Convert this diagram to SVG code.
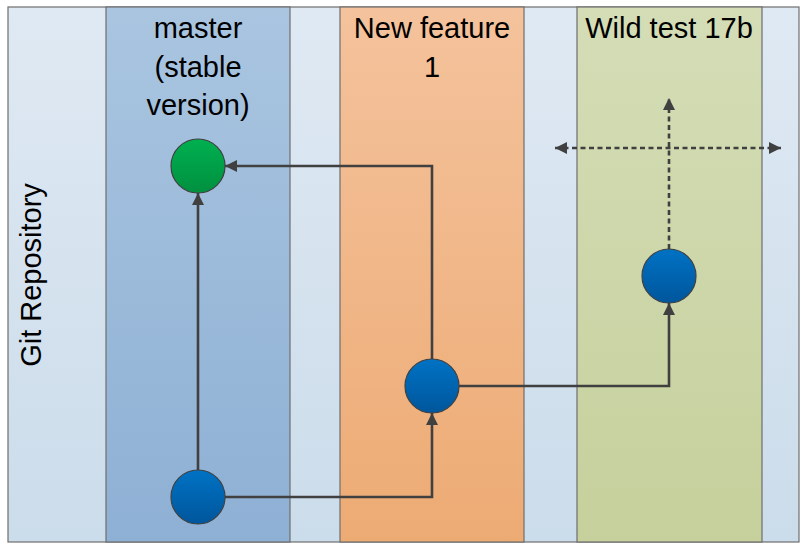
<svg xmlns="http://www.w3.org/2000/svg" width="803" height="546" viewBox="0 0 803 546">
<defs>
<linearGradient id="gBg" x1="0" y1="0" x2="0" y2="1"><stop offset="0" stop-color="#dfe9f3"/><stop offset="1" stop-color="#cbdcea"/></linearGradient>
<linearGradient id="gMaster" x1="0" y1="0" x2="0" y2="1"><stop offset="0" stop-color="#a9c5e0"/><stop offset="1" stop-color="#8eb0d4"/></linearGradient>
<linearGradient id="gFeat" x1="0" y1="0" x2="0" y2="1"><stop offset="0" stop-color="#f4c29c"/><stop offset="1" stop-color="#edab74"/></linearGradient>
<linearGradient id="gWild" x1="0" y1="0" x2="0" y2="1"><stop offset="0" stop-color="#d4ddb6"/><stop offset="1" stop-color="#c5d09c"/></linearGradient>
<linearGradient id="gGreen" x1="0" y1="0" x2="0" y2="1"><stop offset="0" stop-color="#00b050"/><stop offset="1" stop-color="#00903f"/></linearGradient>
<linearGradient id="gBlue" x1="0" y1="0" x2="0" y2="1"><stop offset="0" stop-color="#0072c4"/><stop offset="1" stop-color="#00569c"/></linearGradient>
<marker id="arr" viewBox="0 0 10 10" refX="10" refY="5" markerWidth="12" markerHeight="12" markerUnits="userSpaceOnUse" orient="auto"><path d="M0,0 L10,5 L0,10 Z" fill="#404040"/></marker>
<marker id="arrS" viewBox="0 0 10 10" refX="0" refY="5" markerWidth="12" markerHeight="12" markerUnits="userSpaceOnUse" orient="auto"><path d="M10,0 L0,5 L10,10 Z" fill="#404040"/></marker>
</defs>
<style>
.lane{stroke:#6e6e6e;stroke-width:1.2}
.lbl{font-family:"Liberation Sans",Arial,sans-serif;font-size:29px;fill:#000;text-anchor:middle}
.c{stroke:#404040;stroke-width:1.2}
.con{fill:none;stroke:#404040;stroke-width:2.6}
.dash{fill:none;stroke:#404040;stroke-width:2.6;stroke-dasharray:5,3.5}
</style>
<g id="repository">
<rect x="8" y="7" width="791" height="535" fill="url(#gBg)" class="lane"/>
<text class="lbl" transform="translate(41,275) rotate(-90)">Git Repository</text>
</g>
<g id="lane-master">
<rect x="106" y="7" width="184" height="535" fill="url(#gMaster)" class="lane"/>
<text class="lbl" x="198" y="38">master</text>
<text class="lbl" x="198" y="76.5">(stable</text>
<text class="lbl" x="198" y="115">version)</text>
</g>
<g id="lane-feature">
<rect x="340" y="7" width="184" height="535" fill="url(#gFeat)" class="lane"/>
<text class="lbl" x="432" y="38">New feature</text>
<text class="lbl" x="432" y="77">1</text>
</g>
<g id="lane-wild">
<rect x="577" y="7" width="185" height="535" fill="url(#gWild)" class="lane"/>
<text class="lbl" x="669" y="38">Wild test 17b</text>
</g>
<g id="connectors">
<path class="con" d="M198,470 L198,193" marker-end="url(#arr)"/>
<path class="con" d="M225,497 L432,497 L432,413" marker-end="url(#arr)"/>
<path class="con" d="M432,359 L432,166 L225,166" marker-end="url(#arr)"/>
<path class="con" d="M459,386 L669,386 L669,303" marker-end="url(#arr)"/>
<path class="dash" d="M669,249 L669,98" marker-end="url(#arr)"/>
<path class="dash" d="M555,148 L781,148" marker-start="url(#arrS)" marker-end="url(#arr)"/>
</g>
<g id="commit-master-head"><circle cx="198" cy="166" r="27" fill="url(#gGreen)" class="c"/></g>
<g id="commit-master-base"><circle cx="198" cy="497" r="27" fill="url(#gBlue)" class="c"/></g>
<g id="commit-feature"><circle cx="432" cy="386" r="27" fill="url(#gBlue)" class="c"/></g>
<g id="commit-wild"><circle cx="669" cy="276" r="27" fill="url(#gBlue)" class="c"/></g>
</svg>
